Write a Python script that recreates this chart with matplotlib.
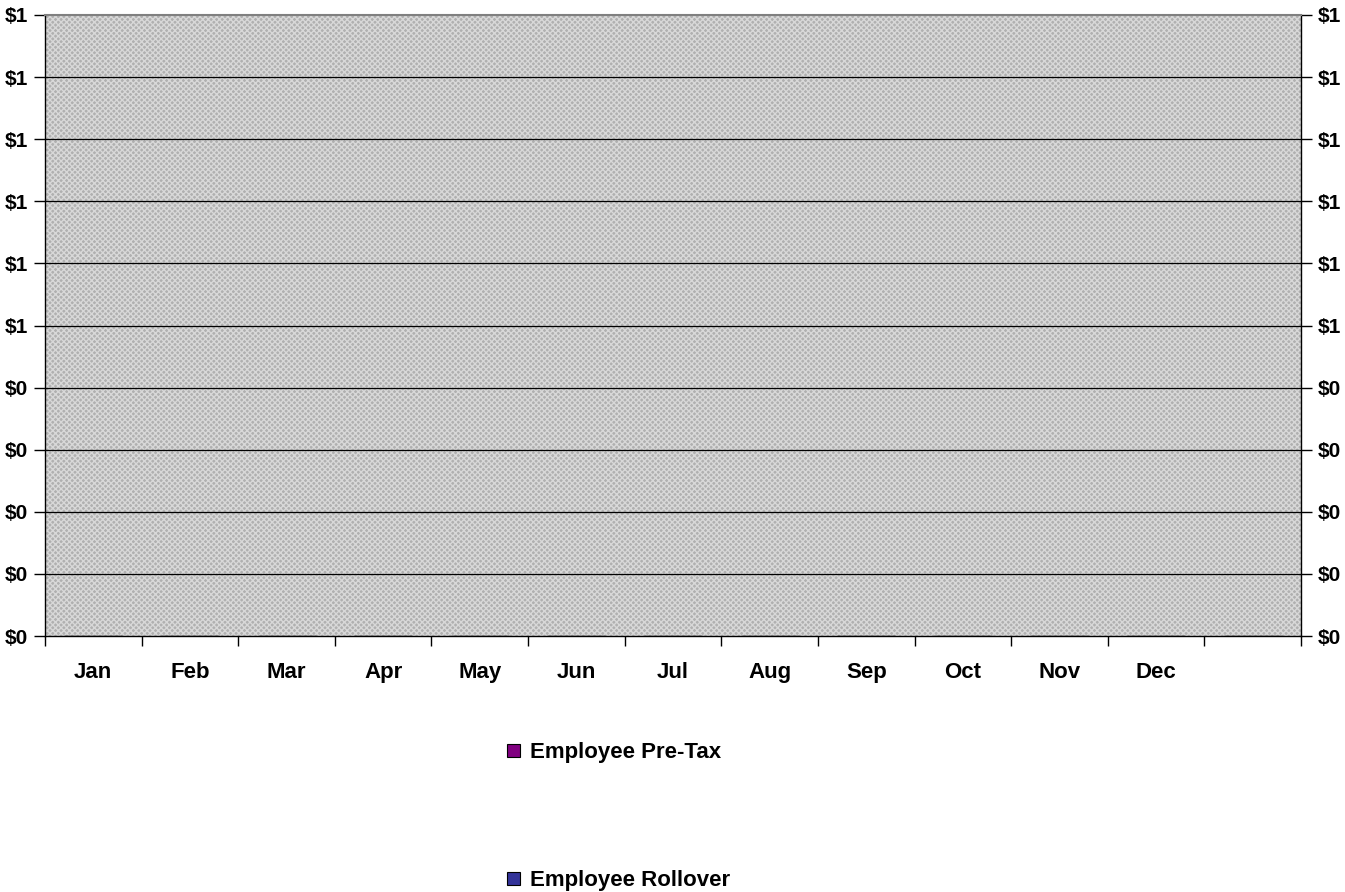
import numpy as np
import matplotlib.pyplot as plt
from matplotlib.patches import Patch

plt.rcParams.update({
    "font.family": ["Liberation Sans", "DejaVu Sans"],
    "font.weight": "bold",
    "font.size": 15,
})

# ================================
# data
# ================================
months = ["Jan", "Feb", "Mar", "Apr", "May", "Jun",
          "Jul", "Aug", "Sep", "Oct", "Nov", "Dec", ""]
pre_tax = [0, 0, 0, 0, 0, 0, 0, 0, 0, 0, 0, 0, 0]
rollover = [0, 0, 0, 0, 0, 0, 0, 0, 0, 0, 0, 0, 0]
y_ticks = [0.0, 0.1, 0.2, 0.3, 0.4, 0.5, 0.6, 0.7, 0.8, 0.9, 1.0]
y_labels = ["$0", "$0", "$0", "$0", "$0", "$1", "$1", "$1", "$1", "$1", "$1"]
series_names = ["Employee Pre-Tax", "Employee Rollover"]

colors = {
    "Employee Pre-Tax": "#800080",
    "Employee Rollover": "#333399",
}

# ================================
# plot
# ================================
fig = plt.figure(figsize=(13.45, 8.92), dpi=100)
ax = fig.add_axes([45 / 1345, 1 - 636 / 892, 1256 / 1345, 621 / 892])

x = np.arange(len(months))
w = 0.3
ax.bar(x - w / 2, pre_tax, width=w, color=colors["Employee Pre-Tax"], edgecolor="black")
ax.bar(x + w / 2, rollover, width=w, color=colors["Employee Rollover"], edgecolor="black")

# dithered grey plot area
ax.set_facecolor("#b0b0b0")
ax.patch.set_hatch("xxxxxx")
ax.patch.set_edgecolor("#d8d8d8")
ax.patch.set_linewidth(0)

ax.set_xlim(-0.5, len(months) - 0.5)
ax.set_ylim(0, 1)

for yv in y_ticks[1:-1]:
    ax.axhline(yv, color="black", lw=0.9, zorder=1)

ax.set_yticks(y_ticks)
ax.set_yticklabels(y_labels, fontsize=15)
ax.tick_params(axis="y", which="both", direction="out", length=8, width=1,
               left=True, right=True, labelleft=True, labelright=True, pad=4)

ax.set_xticks(x)
ax.set_xticklabels(months, fontsize=16)
ax.tick_params(axis="x", which="major", length=0, pad=19)
ax.set_xticks(np.arange(-0.5, len(months)), minor=True)
ax.tick_params(axis="x", which="minor", direction="out", length=7, width=1)

for side in ["left", "right", "bottom"]:
    ax.spines[side].set_color("black")
    ax.spines[side].set_linewidth(1)
ax.spines["top"].set_color("#808080")
ax.spines["top"].set_linewidth(1.5)

handles = [Patch(facecolor=colors[n], edgecolor="black", lw=0.8) for n in series_names]
fig.legend(handles, series_names, loc="upper left",
           bbox_to_anchor=(503 / 1345, 1 - 738 / 892),
           frameon=False, handlelength=0.55, handleheight=0.55,
           handletextpad=0.45, labelspacing=4.8, fontsize=16,
           borderaxespad=0, borderpad=0.2)

plt.savefig("out.png", dpi=100)
plt.close()
